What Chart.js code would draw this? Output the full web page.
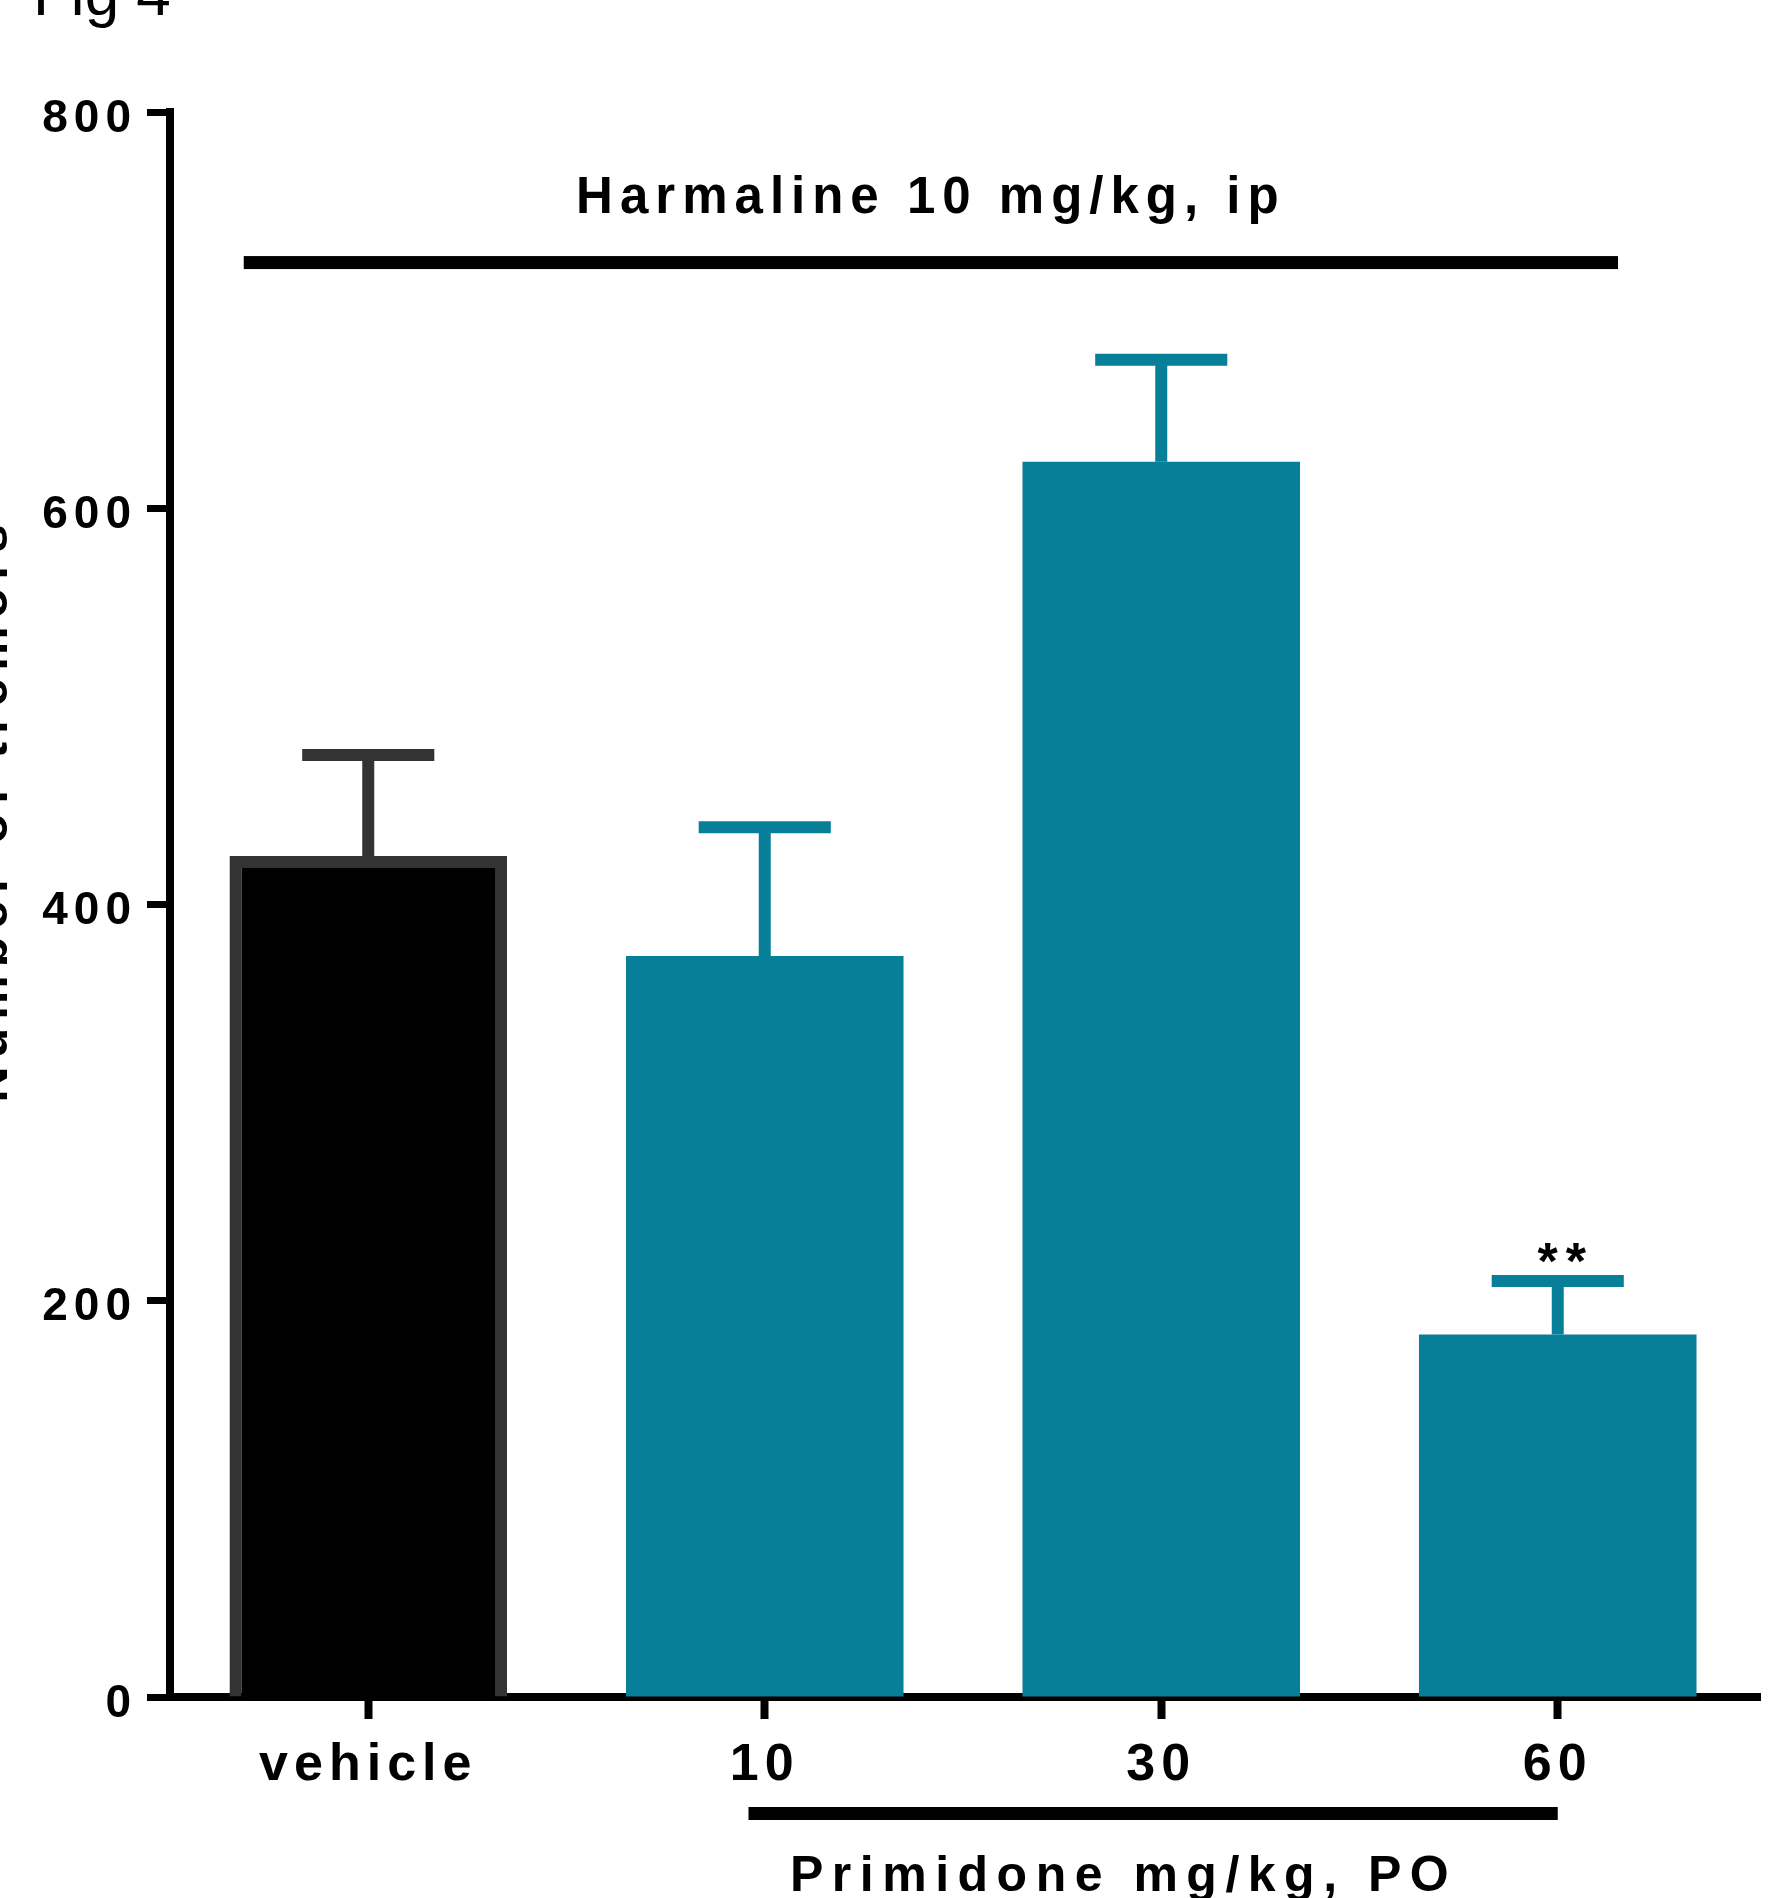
<!DOCTYPE html>
<html>
<head>
<meta charset="utf-8">
<script src="https://cdn.jsdelivr.net/npm/chart.js@4.4.1/dist/chart.umd.min.js"></script>
<style>
  html, body { margin: 0; padding: 0; background: #fff; }
  #wrap { width: 1768px; height: 1898px; }
</style>
</head>
<body>
<div id="wrap"><canvas id="tremorChart" width="1768" height="1898"></canvas></div>
<script>
// values
const groupLabels = ['vehicle', '10', '30', '60'];
const meanTremors = [424.5, 374, 623.5, 183];
const semTremors = [51, 65, 51.5, 27];
const significance = ['', '', '', '**'];
const yTickValues = [0, 200, 400, 600, 800];

const TEAL = '#087f99';
const barFill = ['#000000', TEAL, TEAL, TEAL];
const barEdge = ['#333333', TEAL, TEAL, TEAL];
const barEdgeWidth = [12, 0, 0, 0];
const FONT = '"Liberation Sans", Arial, Helvetica, sans-serif';

// wide letter spacing like the original figure
const spacedText = {
  id: 'spacedText',
  beforeDraw(chart) {
    chart.ctx.letterSpacing = '6px';
  }
};

const errorBars = {
  id: 'errorBars',
  afterDatasetsDraw(chart) {
    const ctx = chart.ctx;
    const y = chart.scales.y;
    const meta = chart.getDatasetMeta(0);
    ctx.save();
    meta.data.forEach((bar, i) => {
      const top = y.getPixelForValue(meanTremors[i] + semTremors[i]);
      const capHalf = bar.width * 0.238;
      ctx.strokeStyle = barEdge[i];
      ctx.lineWidth = 12;
      ctx.beginPath();
      ctx.moveTo(bar.x, bar.y);
      ctx.lineTo(bar.x, top);
      ctx.moveTo(bar.x - capHalf, top);
      ctx.lineTo(bar.x + capHalf, top);
      ctx.stroke();

      if (significance[i]) {
        ctx.fillStyle = '#000';
        ctx.font = 'bold 52px ' + FONT;
        ctx.letterSpacing = '8px';
        ctx.textAlign = 'center';
        ctx.textBaseline = 'alphabetic';
        ctx.fillText(significance[i], bar.x + 8, top - 2);
      }
    });
    ctx.restore();
  }
};

const annotations = {
  id: 'annotations',
  afterDraw(chart) {
    const { ctx, chartArea } = chart;
    const x = chart.scales.x;
    const y = chart.scales.y;
    ctx.save();
    ctx.fillStyle = '#000';

    // x axis line runs a little past the last group
    ctx.fillRect(chartArea.right - 2, chartArea.bottom - 4, 7, 8);

    ctx.textAlign = 'center';
    ctx.textBaseline = 'alphabetic';

    // Harmaline bracket above all groups
    const hx0 = x.getPixelForValue(-0.314);
    const hx1 = x.getPixelForValue(3.152);
    const hy = y.getPixelForValue(724);
    ctx.fillRect(hx0, hy - 6.5, hx1 - hx0, 13);
    ctx.font = 'bold 51px ' + FONT;
    ctx.letterSpacing = '7px';
    ctx.fillText('Harmaline 10 mg/kg, ip', (hx0 + hx1) / 2, hy - 50);

    // Primidone bracket under the dose groups
    const px0 = x.getPixelForValue(0.959);
    const px1 = x.getPixelForValue(3);
    const py = chartArea.bottom + 116.5;
    ctx.fillRect(px0, py - 6.5, px1 - px0, 13);
    ctx.font = 'bold 50px ' + FONT;
    ctx.letterSpacing = '8.5px';
    ctx.fillText('Primidone mg/kg, PO', x.getPixelForValue(1.905), chartArea.bottom + 194);

    // y axis title, mostly cut off by the left edge
    ctx.save();
    ctx.translate(7, chartArea.top + (chartArea.bottom - chartArea.top) * 0.44);
    ctx.rotate(-Math.PI / 2);
    ctx.font = 'bold 50px ' + FONT;
    ctx.letterSpacing = '8px';
    ctx.fillText('Number of tremors', 0, 0);
    ctx.restore();

    // panel label, cut off at the top
    ctx.textAlign = 'left';
    ctx.font = '62px ' + FONT;
    ctx.letterSpacing = '0px';
    ctx.fillText('Fig 4', 33, 15);
    ctx.restore();
  }
};

new Chart(document.getElementById('tremorChart'), {
  type: 'bar',
  data: {
    labels: groupLabels,
    datasets: [{
      data: meanTremors,
      backgroundColor: barFill,
      borderColor: barEdge,
      borderWidth: barEdgeWidth,
      borderSkipped: 'start',
      barPercentage: 0.7,
      categoryPercentage: 1
    }]
  },
  options: {
    responsive: false,
    animation: false,
    devicePixelRatio: 1,
    layout: { padding: { top: 112, right: 12, bottom: 0, left: 0 } },
    plugins: {
      legend: { display: false },
      tooltip: { enabled: false }
    },
    scales: {
      x: {
        offset: true,
        z: 1,
        border: { display: true, color: '#000', width: 8 },
        grid: { offset: false, drawOnChartArea: false, drawTicks: true, tickLength: 22, tickWidth: 8, tickColor: '#000' },
        ticks: {
          color: '#000',
          font: { family: FONT, size: 52, weight: 'bold' },
          padding: 15,
          maxRotation: 0,
          autoSkip: false
        },
        afterFit(scale) { scale.height = 201; }
      },
      y: {
        min: 0,
        max: 800,
        z: 1,
        border: { display: true, color: '#000', width: 8 },
        grid: { drawOnChartArea: false, drawTicks: true, tickLength: 23, tickWidth: 7, tickColor: '#000' },
        ticks: {
          color: '#000',
          font: { family: FONT, size: 46, weight: 'bold' },
          padding: 10,
          labelOffset: 7
        },
        afterBuildTicks(scale) {
          scale.ticks = yTickValues.map(v => ({ value: v }));
        },
        afterFit(scale) { scale.width = 170; }
      }
    }
  },
  plugins: [spacedText, errorBars, annotations]
});
</script>
</body>
</html>
